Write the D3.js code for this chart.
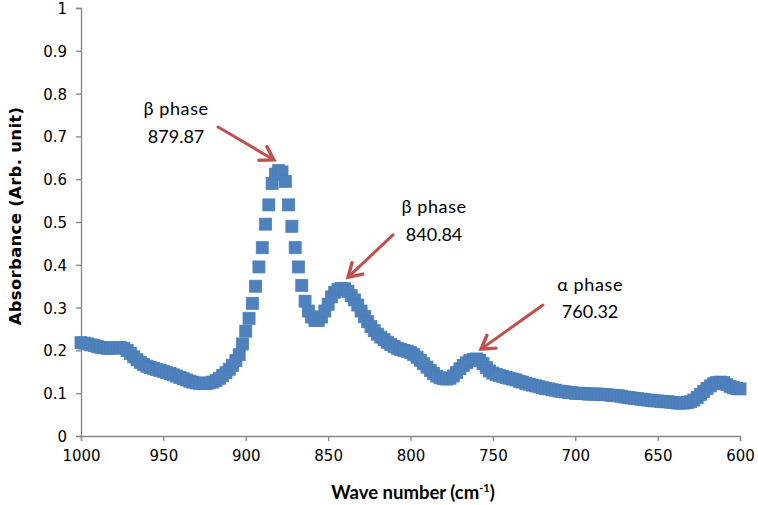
<!DOCTYPE html>
<html><head><meta charset="utf-8">
<script src="https://cdn.jsdelivr.net/npm/d3@7"></script>
<style>html,body{margin:0;padding:0;background:#fff}</style>
</head><body>
<svg id="c" width="758" height="505"></svg>
<script>
// Wavenumber grid (cm-1), uniform 2 cm-1 steps from 1000 down to 600
const waveStart = 1000, waveEnd = 600, waveStep = 2;
// Absorbance, one value per wavenumber (1000 -> 600)
const absorbance = [
0.218,0.217,0.215,0.213,0.211,0.209,0.207,0.206,0.205,0.205,
0.206,0.207,0.207,0.205,0.200,0.193,0.185,0.178,0.172,0.167,
0.163,0.160,0.158,0.155,0.153,0.151,0.148,0.146,0.143,0.140,
0.137,0.134,0.131,0.128,0.126,0.124,0.123,0.123,0.123,0.124,
0.126,0.130,0.135,0.141,0.148,0.156,0.165,0.176,0.190,0.215,
0.245,0.275,0.310,0.350,0.395,0.440,0.495,0.540,0.590,0.612,
0.620,0.617,0.595,0.540,0.490,0.440,0.395,0.352,0.315,0.292,
0.278,0.270,0.270,0.278,0.292,0.308,0.325,0.336,0.342,0.345,
0.344,0.338,0.328,0.318,0.306,0.292,0.279,0.267,0.256,0.246,
0.238,0.231,0.225,0.219,0.214,0.209,0.205,0.202,0.200,0.198,
0.195,0.190,0.184,0.177,0.169,0.161,0.153,0.146,0.140,0.136,
0.134,0.133,0.135,0.140,0.148,0.157,0.165,0.171,0.176,0.179,
0.180,0.177,0.169,0.160,0.152,0.147,0.144,0.141,0.139,0.137,
0.135,0.133,0.131,0.128,0.126,0.123,0.121,0.119,0.117,0.115,
0.113,0.111,0.110,0.108,0.107,0.105,0.104,0.103,0.102,0.101,
0.100,0.100,0.099,0.099,0.098,0.098,0.098,0.098,0.097,0.097,
0.096,0.095,0.095,0.094,0.093,0.091,0.090,0.089,0.088,0.087,
0.086,0.085,0.084,0.083,0.082,0.082,0.081,0.080,0.080,0.079,
0.078,0.077,0.077,0.077,0.078,0.080,0.084,0.090,0.097,0.104,
0.111,0.117,0.122,0.125,0.126,0.125,0.120,0.116,0.113,0.111,
0.110
];
const xTicks = [1000, 950, 900, 850, 800, 750, 700, 650, 600];
const yTicks = [0, 0.1, 0.2, 0.3, 0.4, 0.5, 0.6, 0.7, 0.8, 0.9, 1];
const peakPhases = ["β phase", "β phase", "α phase"];
const peakValues = ["879.87", "840.84", "760.32"];
// arrow tip / tail in data coordinates
const arrowTipW = [882.9, 837.9, 757.2];
const arrowTipA = [0.645, 0.371, 0.203];
const arrowTailW = [916.8, 810.6, 719.6];
const arrowTailA = [0.722, 0.470, 0.306];
// label centre in data coordinates (x), baseline of first line (y)
const labelW = [942.3, 785.7, 691.0];
const labelA = [0.750, 0.521, 0.339];

const wavenumbers = d3.range(waveStart, waveEnd - 1, -waveStep);
const data = wavenumbers.map((w, i) => ({w, a: absorbance[i]}));

const svg = d3.select("#c");
svg.append("rect").attr("width", 758).attr("height", 505).attr("fill", "#fff");

const x = d3.scaleLinear().domain([1000, 600]).range([81, 740]);
const y = d3.scaleLinear().domain([0, 1]).range([436, 8]);

const axisColor = "#868686";
const tickFont = "'DejaVu Sans', Verdana, sans-serif";

// Y axis
const ya = svg.append("g").attr("transform", "translate(81,0)")
  .call(d3.axisLeft(y).tickValues(yTicks).tickSize(5).tickPadding(9)
    .tickFormat(d => d3.format("~g")(d)));
// X axis
const xa = svg.append("g").attr("transform", "translate(0,436)")
  .call(d3.axisBottom(x).tickValues(xTicks).tickSize(5).tickPadding(9)
    .tickFormat(d3.format("d")));
[ya, xa].forEach(g => {
  g.select(".domain").attr("stroke", axisColor).attr("stroke-width", 1.3);
  g.selectAll(".tick line").attr("stroke", axisColor).attr("stroke-width", 1.3);
  g.selectAll(".tick text").attr("fill", "#000").attr("font-family", tickFont)
    .attr("font-size", 15);
});
ya.selectAll(".tick text").attr("dy", "0.36em");

// Markers
svg.append("g").selectAll("rect").data(data).join("rect")
  .attr("x", d => x(d.w) - 6).attr("y", d => y(d.a) - 6)
  .attr("width", 12).attr("height", 12)
  .attr("fill", "#4F81BD").attr("stroke", "#4A7EBB").attr("stroke-width", 0.8);

// Axis titles
svg.append("text").attr("transform", "translate(21,216) rotate(-90)")
  .attr("text-anchor", "middle").attr("font-family", tickFont)
  .attr("font-weight", "bold").attr("font-size", 16.5).attr("fill", "#000")
  .attr("letter-spacing", 0.3)
  .text("Absorbance  (Arb. unit)");
const xt = svg.append("text").attr("x", 413).attr("y", 499)
  .attr("text-anchor", "middle").attr("font-family", "Lato, 'Open Sans', sans-serif")
  .attr("font-weight", "bold").attr("font-size", 18.5).attr("fill", "#000");
xt.append("tspan").text("Wave number (cm");
xt.append("tspan").attr("font-size", 11).attr("dy", -7).text("-1");
xt.append("tspan").attr("dy", 7).text(")");

// Annotations
const red = "#C0504D";
const annFont = "Lato, 'Open Sans', sans-serif";
peakPhases.forEach((p, i) => {
  const cx = x(labelW[i]), by = y(labelA[i]);
  const t = svg.append("text").attr("text-anchor", "middle")
    .attr("font-family", annFont).attr("font-size", 18).attr("fill", "#000");
  t.append("tspan").attr("x", cx).attr("y", by).attr("letter-spacing", 0.6).text(p);
  t.append("tspan").attr("x", cx).attr("y", by + 27.5).text(peakValues[i]);

  const x1 = x(arrowTailW[i]), y1 = y(arrowTailA[i]);
  const x2 = x(arrowTipW[i]), y2 = y(arrowTipA[i]);
  const ang = Math.atan2(y2 - y1, x2 - x1);
  const L = 15, spread = 0.55;
  svg.append("line").attr("x1", x1).attr("y1", y1)
    .attr("x2", x2 - 2 * Math.cos(ang)).attr("y2", y2 - 2 * Math.sin(ang))
    .attr("stroke", red).attr("stroke-width", 3).attr("stroke-linecap", "round");
  const p1 = [x2 - L * Math.cos(ang - spread), y2 - L * Math.sin(ang - spread)];
  const p2 = [x2 - L * Math.cos(ang + spread), y2 - L * Math.sin(ang + spread)];
  svg.append("path").attr("d", `M${p1}L${x2},${y2}L${p2}`)
    .attr("fill", "none").attr("stroke", red).attr("stroke-width", 3.4)
    .attr("stroke-linejoin", "miter").attr("stroke-linecap", "round");
});
</script>
</body></html>
